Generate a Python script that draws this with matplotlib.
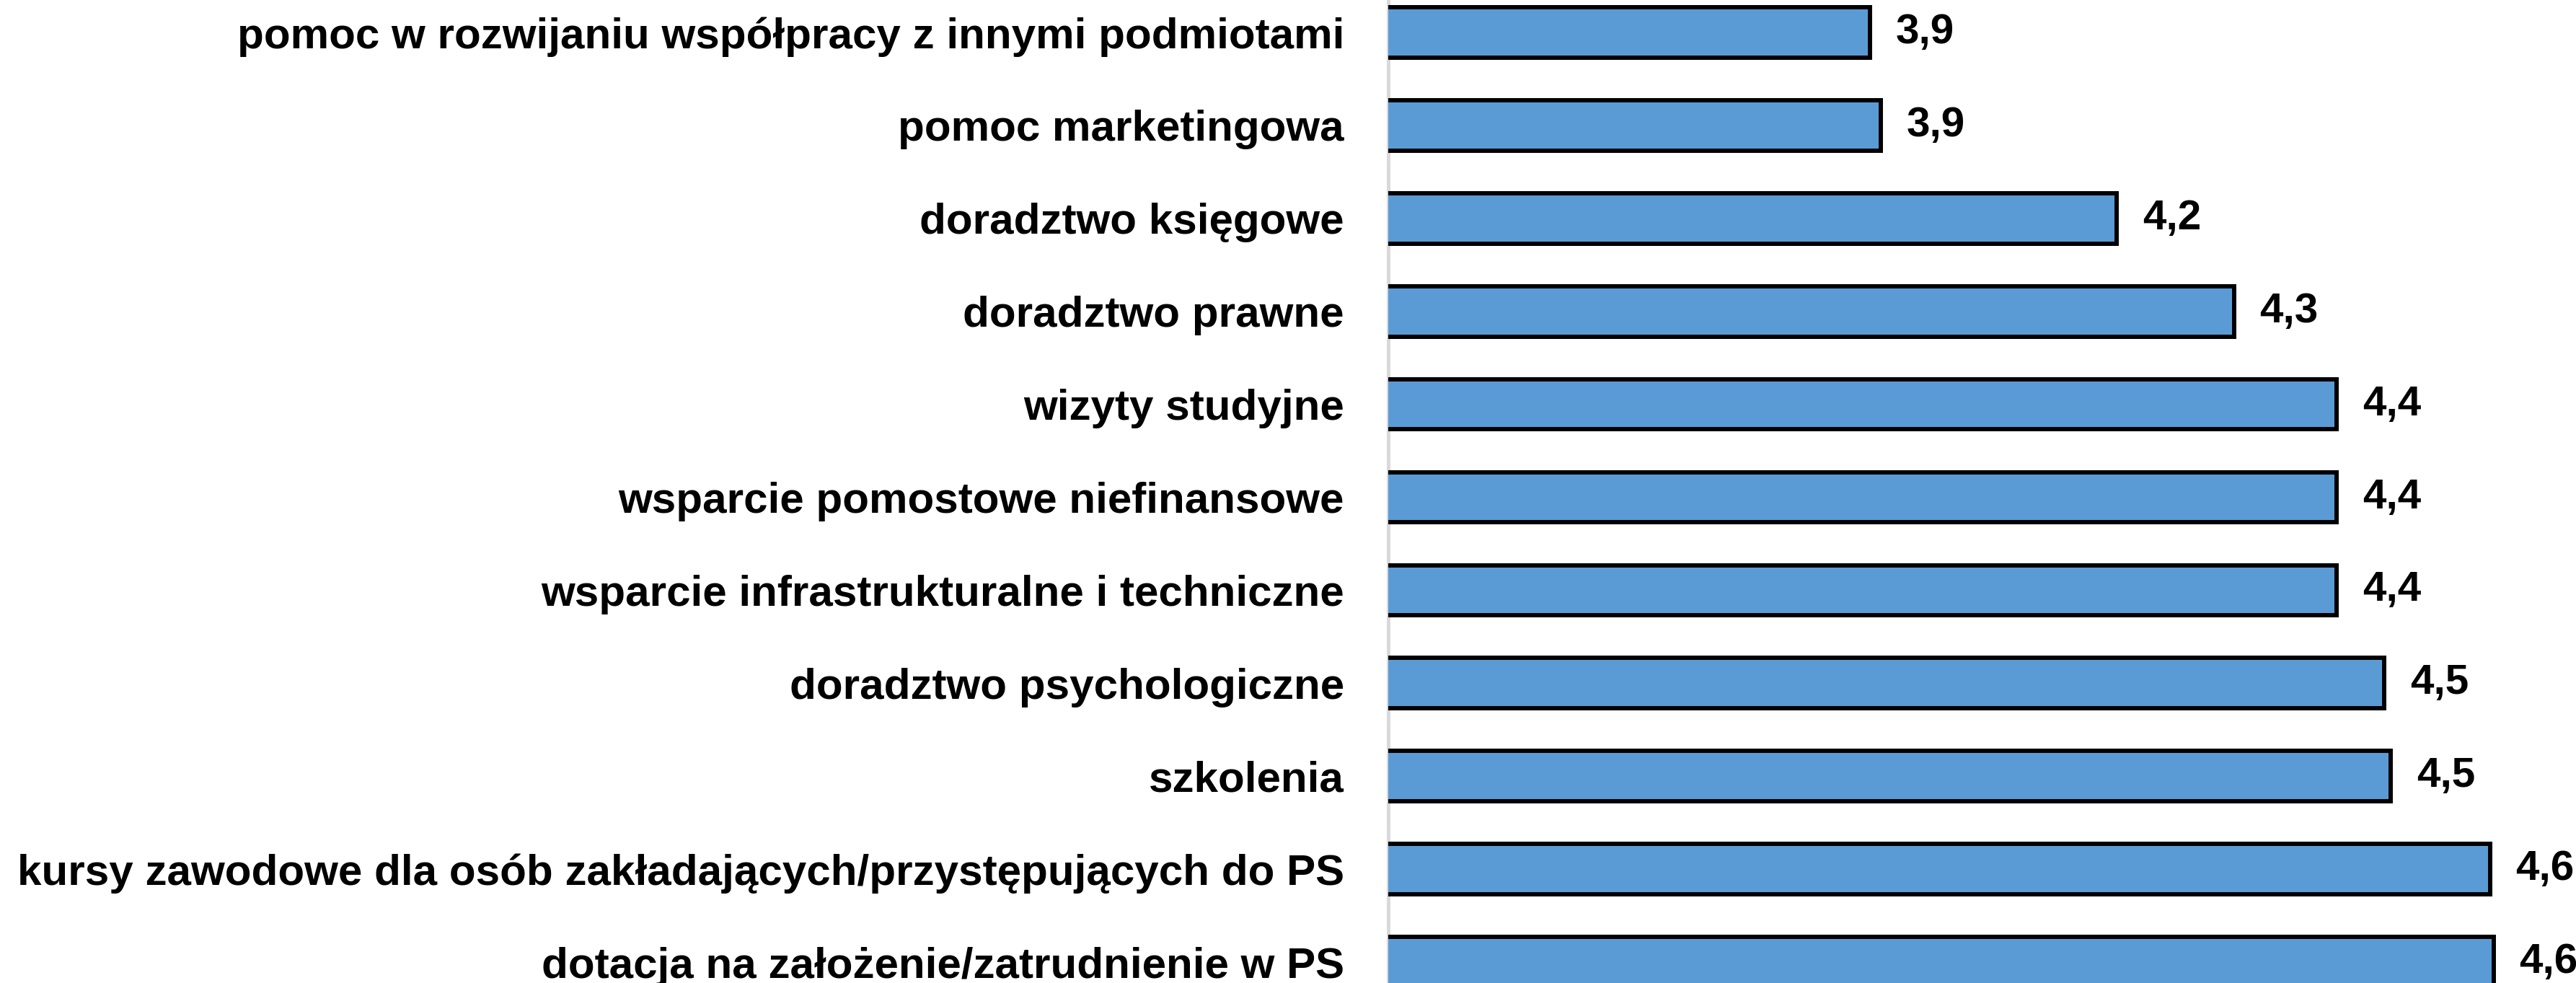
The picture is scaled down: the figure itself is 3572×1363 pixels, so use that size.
import matplotlib
matplotlib.use("Agg")
import matplotlib.pyplot as plt

categories = [
    "pomoc w rozwijaniu współpracy z innymi podmiotami",
    "pomoc marketingowa",
    "doradztwo księgowe",
    "doradztwo prawne",
    "wizyty studyjne",
    "wsparcie pomostowe niefinansowe",
    "wsparcie infrastrukturalne i techniczne",
    "doradztwo psychologiczne",
    "szkolenia",
    "kursy zawodowe dla osób zakładających/przystępujących do PS",
    "dotacja na założenie/zatrudnienie w PS",
]
values = [3.904, 3.916, 4.178, 4.308, 4.422, 4.422, 4.422, 4.475, 4.482, 4.592, 4.596]

W, H, DPI = 3573, 1363, 100
fig = plt.figure(figsize=(W / DPI, H / DPI), dpi=DPI)
fig.patch.set_facecolor("white")

axis_px = 1925
ax = fig.add_axes([axis_px / W, 0, 1 - axis_px / W, 1])

font = dict(family=["Liberation Sans", "DejaVu Sans"], weight="bold")

ypos = list(range(len(categories)))
ax.barh(ypos, values, height=0.54, color="#5B9BD5", edgecolor="black",
        linewidth=4.3, zorder=3)

ax.set_xlim(3.37, 3.37 + (W - axis_px) / 1250)
pitch = 128.9
c0 = 45
ax.set_ylim((H - c0) / pitch, -c0 / pitch)

ax.set_yticks(ypos)
ax.set_yticklabels(categories, fontsize=43.3, **font)
ax.tick_params(axis="y", length=0, pad=44)
ax.set_xticks([])

for s in ["top", "right", "bottom"]:
    ax.spines[s].set_visible(False)
ax.spines["left"].set_color("#d9d9d9")
ax.spines["left"].set_linewidth(3.6)

for y, v in zip(ypos, values):
    ax.annotate(f"{v:.1f}".replace(".", ","), xy=(v, y), xytext=(26, 0),
                textcoords="offset points", va="center", ha="left",
                fontsize=42, **font)

fig.savefig("out.png", dpi=DPI, facecolor="white")
